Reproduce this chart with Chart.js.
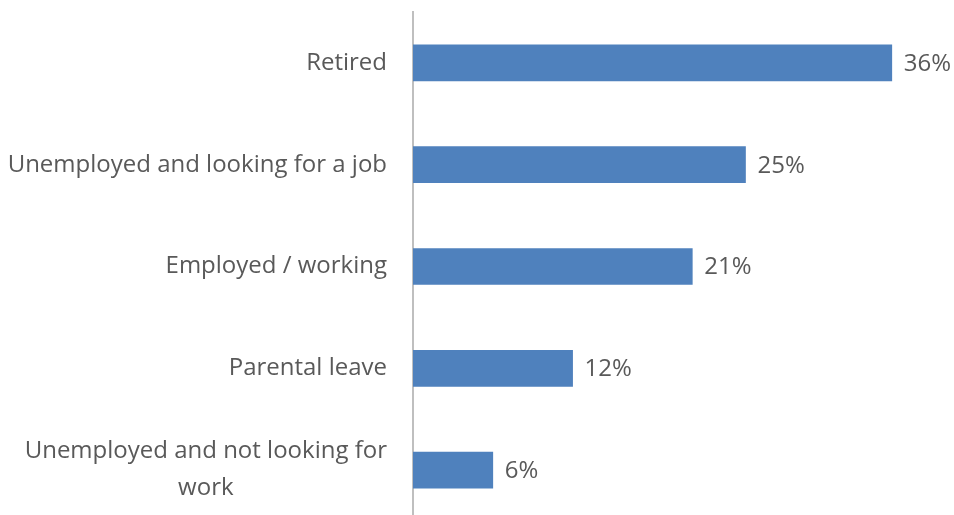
<!DOCTYPE html>
<html>
<head>
<meta charset="utf-8">
<script src="https://cdn.jsdelivr.net/npm/chart.js@4"></script>
<style>
  html, body { margin: 0; padding: 0; background: #fff; overflow: hidden; }
  #wrap { width: 954px; height: 521px; }
</style>
</head>
<body>
<div id="wrap"><canvas id="status_chart"></canvas></div>
<script>
// employment status shares, in percent
const categories = [
    ['Retired'],
    ['Unemployed and looking for a job'],
    ['Employed / working'],
    ['Parental leave'],
    ['Unemployed and not looking for', 'work']
];
const shares = [36, 25, 21, 12, 6];

const FONT = '24px "Open Sans", Lato, sans-serif';
const TEXT_COLOR = '#595959';

// value labels at the end of each bar
const valueLabels = {
    id: 'valueLabels',
    afterDatasetsDraw(chart) {
        const ctx = chart.ctx;
        const meta = chart.getDatasetMeta(0);
        ctx.save();
        ctx.font = FONT;
        ctx.fillStyle = TEXT_COLOR;
        ctx.textAlign = 'left';
        ctx.textBaseline = 'middle';
        meta.data.forEach((bar, i) => {
            ctx.fillText(shares[i] + '%', bar.x + 12, bar.y + 1);
        });
        ctx.restore();
    }
};

// category labels: right aligned block, lines centred inside it
const categoryLabels = {
    id: 'categoryLabels',
    afterDraw(chart) {
        const ctx = chart.ctx;
        const y = chart.scales.y;
        const right = chart.chartArea.left - 26;
        const lineHeight = 37;
        ctx.save();
        ctx.font = FONT;
        ctx.fillStyle = TEXT_COLOR;
        ctx.textAlign = 'center';
        ctx.textBaseline = 'middle';
        categories.forEach((lines, i) => {
            const w = Math.max(...lines.map(l => ctx.measureText(l).width));
            const cx = right - w / 2;
            const cy = y.getPixelForValue(i);
            const top = cy - (lines.length - 1) * lineHeight / 2;
            lines.forEach((line, j) => {
                ctx.fillText(line, cx, top + j * lineHeight);
            });
        });
        ctx.restore();
    }
};

const chart_data = {
    labels: categories,
    datasets: [{
        data: shares,
        backgroundColor: '#4F81BD',
        borderWidth: 0,
        barThickness: 36
    }]
};

const config = {
    type: 'bar',
    data: chart_data,
    options: {
        indexAxis: 'y',
        responsive: true,
        maintainAspectRatio: false,
        animation: false,
        layout: {
            padding: { top: 12, right: 9, bottom: 0, left: 0 }
        },
        plugins: {
            legend: { display: false },
            tooltip: { enabled: false }
        },
        scales: {
            x: {
                min: 0,
                max: 40,
                display: false
            },
            y: {
                grid: { display: false, drawTicks: false },
                border: { display: true, color: '#BFBFBF', width: 2 },
                ticks: { display: false },
                afterFit(scale) {
                    scale.width = 413;
                }
            }
        }
    },
    plugins: [valueLabels, categoryLabels]
};

const chart = new Chart(document.getElementById('status_chart'), config);
</script>
</body>
</html>
